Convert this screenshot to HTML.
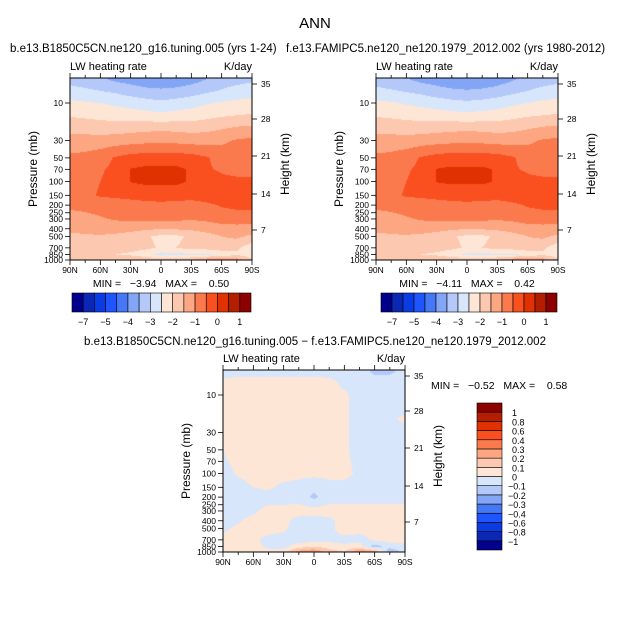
<!DOCTYPE html>
<html><head><meta charset="utf-8">
<style>
html,body{margin:0;padding:0;background:#fff;}
#wrap{position:relative;width:631px;height:630px;overflow:hidden;font-family:"Liberation Sans",sans-serif;}
canvas{position:absolute;}
svg{position:absolute;left:0;top:0;}
text{white-space:pre;}
</style></head>
<body>
<div id="wrap">
<svg id="svg" width="631" height="630"></svg>
</div>
<script>
// ---- data ----
const lats = ["90N","75N","60N","45N","30N","15N","0","15S","30S","45S","60S","75S","90S"];
const levels = [5,7,10,15,20,30,50,70,100,150,200,300,400,500,700,850,1000];
const xTickLabels = ["90N","60N","30N","0","30S","60S","90S"];
const pTicks = [10,30,50,70,100,150,200,250,300,400,500,700,850,1000];
const hTicks = [35,28,21,14,7];
const topLevels = [-7,-6,-5,-4.5,-4,-3.5,-3,-2.5,-2,-1.5,-1,-0.5,0,0.5,1];
const topLabels = ["-7","","-5","","-4","","-3","","-2","","-1","","0","","1"];
const diffLevels = [-1,-0.8,-0.6,-0.4,-0.3,-0.2,-0.1,0,0.1,0.2,0.3,0.4,0.6,0.8,1];
const diffLabels = ["-1","-0.8","-0.6","-0.4","-0.3","-0.2","-0.1","0","0.1","0.2","0.3","0.4","0.6","0.8","1"];
const colors = ["#00008c","#0a28b4","#0a3ce6","#1e55ff","#4678f5","#82a5f5","#b4c8fa","#d7e6fa","#fde6d6","#fcc8b0","#fca682","#fa7a4e","#fa5020","#e03200","#b41e00","#8c0000"];
const fieldA = [
[-3.2,-3.3,-3.4,-3.6,-3.7,-3.85,-3.9,-3.85,-3.7,-3.5,-3.3,-3.2,-3.1],
[-2.8,-2.9,-3.0,-3.1,-3.25,-3.35,-3.4,-3.35,-3.25,-3.1,-2.95,-2.8,-2.7],
[-2.4,-2.45,-2.5,-2.6,-2.7,-2.8,-2.9,-2.8,-2.7,-2.55,-2.45,-2.4,-2.35],
[-2.0,-2.05,-2.1,-2.15,-2.2,-2.25,-2.3,-2.25,-2.2,-2.1,-2.0,-1.95,-1.9],
[-1.7,-1.75,-1.8,-1.8,-1.75,-1.7,-1.7,-1.7,-1.75,-1.7,-1.6,-1.5,-1.45],
[-1.3,-1.3,-1.3,-1.25,-1.2,-1.15,-1.1,-1.15,-1.2,-1.2,-1.1,-0.95,-0.9],
[-0.9,-0.85,-0.7,-0.45,-0.3,-0.25,-0.25,-0.25,-0.3,-0.45,-0.7,-0.8,-0.8],
[-0.85,-0.75,-0.55,-0.4,0.02,0.1,0.1,0.1,-0.05,-0.45,-0.55,-0.65,-0.7],
[-0.8,-0.7,-0.5,-0.35,0.02,0.1,0.1,0.1,-0.05,-0.35,-0.4,-0.4,-0.4],
[-0.7,-0.6,-0.45,-0.4,-0.35,-0.3,-0.3,-0.3,-0.3,-0.25,-0.2,-0.2,-0.2],
[-0.9,-0.85,-0.8,-0.75,-0.7,-0.65,-0.6,-0.65,-0.7,-0.6,-0.45,-0.35,-0.35],
[-1.2,-1.15,-1.05,-0.95,-0.9,-0.9,-0.85,-0.9,-0.95,-0.9,-0.8,-0.8,-0.8],
[-1.45,-1.4,-1.3,-1.3,-1.35,-1.4,-1.5,-1.45,-1.4,-1.3,-1.2,-1.15,-1.2],
[-1.55,-1.55,-1.55,-1.6,-1.7,-1.95,-2.1,-2.1,-1.9,-1.7,-1.5,-1.4,-1.6],
[-1.6,-1.6,-1.7,-1.8,-1.8,-1.9,-2.05,-2.0,-1.85,-1.8,-1.7,-1.9,-2.3],
[-1.8,-1.85,-1.9,-2.0,-2.1,-2.3,-2.7,-2.6,-2.6,-2.6,-2.4,-2.1,-2.3],
[-1.6,-1.6,-1.5,-1.5,-1.55,-1.6,-1.7,-1.6,-1.5,-1.1,-0.9,-1.2,-1.9]];
const fieldB = [
[-3.25,-3.35,-3.45,-3.65,-3.75,-3.9,-3.95,-3.9,-3.75,-3.55,-3.35,-3.25,-3.15],
[-2.85,-2.95,-3.05,-3.15,-3.3,-3.4,-3.45,-3.4,-3.3,-3.15,-3.0,-2.85,-2.75],
[-2.4,-2.45,-2.55,-2.65,-2.75,-2.85,-2.9,-2.85,-2.75,-2.6,-2.5,-2.4,-2.35],
[-2.0,-2.05,-2.1,-2.15,-2.2,-2.25,-2.3,-2.25,-2.2,-2.1,-2.0,-1.95,-1.9],
[-1.7,-1.75,-1.8,-1.8,-1.75,-1.7,-1.7,-1.7,-1.75,-1.7,-1.6,-1.5,-1.45],
[-1.3,-1.3,-1.3,-1.25,-1.2,-1.15,-1.1,-1.15,-1.2,-1.2,-1.1,-0.95,-0.9],
[-0.9,-0.85,-0.7,-0.45,-0.3,-0.25,-0.25,-0.25,-0.3,-0.45,-0.7,-0.8,-0.8],
[-0.85,-0.75,-0.55,-0.4,0.02,0.08,0.08,0.08,-0.05,-0.45,-0.55,-0.65,-0.7],
[-0.8,-0.7,-0.5,-0.35,0.02,0.08,0.08,0.08,-0.05,-0.35,-0.4,-0.4,-0.4],
[-0.7,-0.6,-0.45,-0.4,-0.35,-0.3,-0.3,-0.3,-0.3,-0.25,-0.2,-0.2,-0.2],
[-0.9,-0.85,-0.8,-0.75,-0.7,-0.65,-0.6,-0.65,-0.7,-0.6,-0.45,-0.35,-0.35],
[-1.2,-1.15,-1.05,-0.95,-0.9,-0.9,-0.85,-0.9,-0.95,-0.9,-0.8,-0.8,-0.8],
[-1.45,-1.4,-1.3,-1.3,-1.35,-1.4,-1.5,-1.45,-1.4,-1.3,-1.2,-1.15,-1.2],
[-1.55,-1.55,-1.55,-1.6,-1.7,-1.95,-2.1,-2.1,-1.9,-1.7,-1.5,-1.4,-1.6],
[-1.6,-1.6,-1.7,-1.8,-1.8,-1.9,-2.05,-2.0,-1.85,-1.8,-1.7,-1.9,-2.3],
[-1.8,-1.85,-1.9,-2.0,-2.1,-2.3,-2.6,-2.6,-2.6,-2.6,-2.4,-2.1,-2.3],
[-1.6,-1.6,-1.5,-1.5,-1.55,-1.6,-1.75,-1.65,-1.5,-1.1,-0.9,-1.2,-1.9]];
const fieldD = [
[-0.05,-0.05,-0.05,-0.05,-0.05,-0.05,-0.05,-0.05,-0.05,-0.06,-0.12,-0.12,-0.06],
[0.03,0.05,0.05,0.05,0.05,0.05,0.05,0.04,-0.03,-0.05,-0.05,-0.05,-0.05],
[0.04,0.05,0.05,0.05,0.05,0.05,0.05,0.05,0.02,-0.05,-0.05,-0.05,-0.05],
[0.03,0.05,0.05,0.05,0.05,0.05,0.05,0.05,0.02,-0.05,-0.05,-0.05,-0.05],
[0.02,0.05,0.05,0.05,0.05,0.05,0.05,0.05,0.02,-0.05,-0.05,-0.03,0.03],
[0.01,0.04,0.05,0.05,0.05,0.05,0.05,0.05,0.02,-0.05,-0.05,-0.05,-0.05],
[0.0,0.03,0.05,0.05,0.05,0.05,0.05,0.05,0.02,-0.05,-0.05,-0.05,-0.05],
[-0.01,0.02,0.04,0.05,0.05,0.05,0.05,0.05,0.03,-0.04,-0.05,-0.05,-0.05],
[-0.03,0.01,0.03,0.05,0.05,0.04,0.03,0.04,0.04,-0.03,-0.05,-0.05,-0.05],
[-0.05,-0.03,0.0,0.02,-0.03,-0.05,-0.08,-0.05,-0.05,-0.05,-0.05,-0.05,-0.05],
[-0.05,-0.05,-0.05,-0.05,-0.05,-0.05,-0.12,-0.05,-0.05,-0.05,-0.05,-0.05,-0.05],
[-0.03,-0.03,-0.02,0.04,0.04,0.05,0.04,0.05,0.05,0.05,0.05,0.05,0.05],
[-0.03,-0.01,0.03,0.04,0.03,-0.04,-0.04,-0.03,0.05,0.05,0.05,0.05,0.05],
[-0.02,0.02,0.03,0.04,0.02,-0.05,-0.05,-0.03,0.05,0.05,0.05,0.05,0.05],
[0.03,0.03,0.02,-0.03,-0.04,-0.05,-0.05,-0.03,-0.03,-0.05,0.02,0.04,0.04],
[0.05,0.05,0.03,-0.02,-0.03,0.05,0.1,0.05,0.02,0.05,-0.15,-0.05,-0.03],
[0.02,0.05,0.05,0.03,0.05,0.25,0.3,0.15,0.1,0.3,0.25,-0.2,-0.05]];

// ---- drawing ----
const NS = "http://www.w3.org/2000/svg";
const svg = document.getElementById('svg');
const wrap = document.getElementById('wrap');
const hOffsets = [6,41,78,116,152];
function el(tag, attrs, parent){const e=document.createElementNS(NS,tag);for(const k in attrs)e.setAttribute(k,attrs[k]);(parent||svg).appendChild(e);return e;}
function txt(x,y,s,size,anchor,parent){const t=el('text',{x:x,y:y,'font-size':size,'text-anchor':anchor||'start',fill:'#000','font-family':'Liberation Sans, sans-serif'},parent);t.textContent=s;return t;}
function levelIndex(v,lv){let i=0;while(i<lv.length&&v>=lv[i])i++;return i;}
function hexRgb(h){return [parseInt(h.substr(1,2),16),parseInt(h.substr(3,2),16),parseInt(h.substr(5,2),16)];}
const rgb = colors.map(hexRgb);

function panel(name,x0,y0,field,lv){
  const W=182,H=182;
  const pTop = 10*Math.pow(10,-(25/78.5));
  const lpTop=Math.log10(pTop), lpBot=3;
  const yOf = p => y0 + (Math.log10(p)-lpTop)/(lpBot-lpTop)*H;
  const xOf = f => x0 + f*W;
  const cv=document.createElement('canvas');cv.width=W;cv.height=H;cv.style.left=x0+'px';cv.style.top=y0+'px';
  
  
  wrap.insertBefore(cv,svg);
  const ctx=cv.getContext('2d');const img=ctx.createImageData(W,H);
  const llev=levels.map(p=>Math.log10(p));
  for(let py=0;py<H;py++){
    const lp=lpTop+(py+0.5)/H*(lpBot-lpTop);
    let k=0;while(k<llev.length-2&&lp>llev[k+1])k++;
    let ty=(lp-llev[k])/(llev[k+1]-llev[k]);ty=Math.max(0,Math.min(1,ty));
    for(let px=0;px<W;px++){
      const fx=(px+0.5)/W*(lats.length-1);
      let i=Math.min(lats.length-2,Math.floor(fx));const tx=fx-i;
      const v=(field[k][i]*(1-tx)+field[k][i+1]*tx)*(1-ty)+(field[k+1][i]*(1-tx)+field[k+1][i+1]*tx)*ty;
      const c=rgb[levelIndex(v,lv)];const o=(py*W+px)*4;
      img.data[o]=c[0];img.data[o+1]=c[1];img.data[o+2]=c[2];img.data[o+3]=255;
    }
  }
  ctx.putImageData(img,0,0);
  const g=el('g',{});
  
  
  el('rect',{x:x0,y:y0,width:W,height:H,fill:'none',stroke:'#000','stroke-width':1},g);
  for(let d=0;d<=180;d+=15){
    const xx=xOf(d/180);const major=d%30===0;const L=major?5:3;
    el('line',{x1:xx,y1:y0+H,x2:xx,y2:y0+H+L,stroke:'#000','stroke-width':0.8},g);
    el('line',{x1:xx,y1:y0,x2:xx,y2:y0-L,stroke:'#000','stroke-width':0.8},g);
  }
  xTickLabels.forEach((s,i)=>{const t=txt(xOf(i/6),y0+H+13,s,8.5,'middle',g);
    
    });
  pTicks.forEach(p=>{const yy=yOf(p);
    el('line',{x1:x0,y1:yy,x2:x0-5,y2:yy,stroke:'#000','stroke-width':0.8},g);
    const t=txt(x0-7,yy+3,String(p),8.5,'end',g);
    
    });
  hTicks.forEach((h,i)=>{const yy=y0+hOffsets[i];
    el('line',{x1:x0+W,y1:yy,x2:x0+W+5,y2:yy,stroke:'#000','stroke-width':0.8},g);
    const t=txt(x0+W+9,yy+3,String(h),8.5,'start',g);
    
    });
  const a=txt(x0,y0-8,'LW heating rate',11,'start',g);
  
  
  const b=txt(x0+W,y0-8,'K/day',11,'end',g);
  
  
  const yl=txt(0,0,'Pressure (mb)',12,'middle',g);yl.setAttribute('transform',`translate(${x0-33},${y0+H/2}) rotate(-90)`);
  
  
  const hl=txt(0,0,'Height (km)',12,'middle',g);hl.setAttribute('transform',`translate(${x0+W+37},${y0+H/2-5}) rotate(-90)`);
  
  
}

function hbar(name,x0,y0,w,h){
  const g=el('g',{});
  
  
  const bw=w/colors.length;
  colors.forEach((c,i)=>{const r=el('rect',{x:x0+i*bw,y:y0,width:bw,height:h,fill:c,stroke:'#000','stroke-width':0.6},g);
    
    });
  topLabels.forEach((s,i)=>{if(!s)return;const t=txt(x0+(i+1)*bw,y0+h+13,s.replace('-','\u2212'),9,'middle',g);
    
    });
}
function vbar(name,x0,y0,w,h){
  const g=el('g',{});
  
  
  const bh=h/colors.length;
  colors.forEach((c,i)=>{const r=el('rect',{x:x0,y:y0+(colors.length-1-i)*bh,width:w,height:bh,fill:c,stroke:'#000','stroke-width':0.6},g);
    
    });
  diffLabels.forEach((s,i)=>{const yy=y0+(colors.length-1-i)*bh;const t=txt(x0+w+(s[0]==='-'?6:10),yy+4,s.replace('-','\u2212'),9,'start',g);
    
    });
}

const t0=txt(315,28,'ANN',15,'middle');


const t1=txt(10,52,'b.e13.B1850C5CN.ne120_g16.tuning.005 (yrs 1-24)',11.5,'start');


const t2=txt(286,52,'f.e13.FAMIPC5.ne120_ne120.1979_2012.002 (yrs 1980-2012)',11.5,'start');



panel('left-panel',70,78,fieldA,topLevels);
panel('right-panel',376,78,fieldB,topLevels);
panel('diff-panel',223,370,fieldD,diffLevels);

const m1=txt(161,287,'MIN =   \u22123.94   MAX =    0.50',10.5,'middle');


const m2=txt(467,287,'MIN =   \u22124.11   MAX =    0.42',10.5,'middle');


hbar('left-colorbar',72,293,179,19);
hbar('right-colorbar',381,293,176,19);
const t3=txt(315,345,'b.e13.B1850C5CN.ne120_g16.tuning.005 \u2212 f.e13.FAMIPC5.ne120_ne120.1979_2012.002',11.5,'middle');


const m3=txt(431,389,'MIN =   \u22120.52   MAX =    0.58',10.5,'start');


vbar('diff-colorbar',477,403,25,147);
</script>
</body></html>
